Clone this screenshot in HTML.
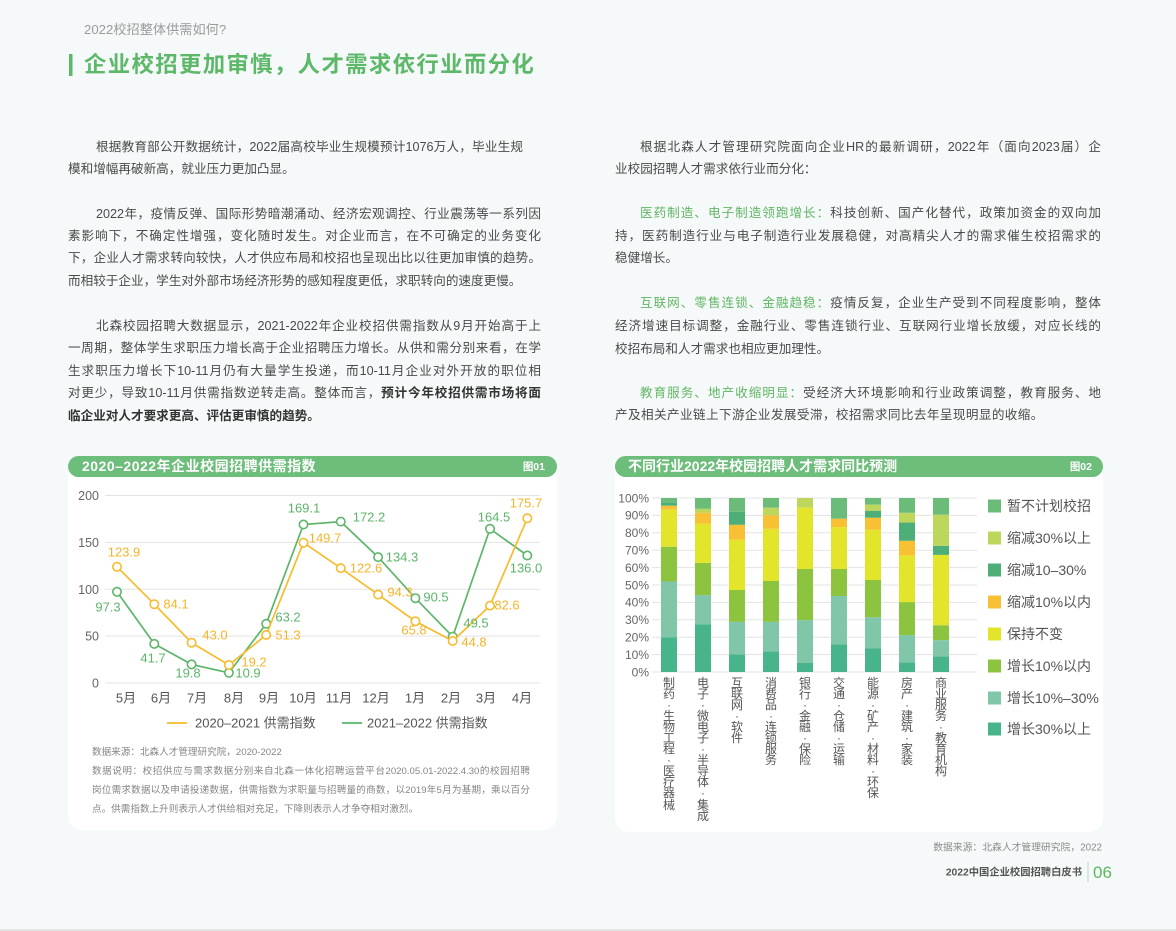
<!DOCTYPE html>
<html><head><meta charset="utf-8">
<style>
*{margin:0;padding:0;box-sizing:border-box}
html,body{width:1176px;height:931px;overflow:hidden;background:#f6f9f9}
body{position:relative;font-family:"Liberation Sans","Noto Sans CJK SC",sans-serif;color:#555}
.ln{position:absolute;height:18px;line-height:18px;font-size:12.6px;text-align:justify;text-align-last:justify;color:#4a4a4a}
.nl{text-align-last:left;text-align:left}
.g{color:#62b665}
.b{font-weight:bold;color:#333}
.fn{position:absolute;height:14px;line-height:14px;font-size:9.6px;color:#858585;text-align:justify;text-align-last:justify}
.vc{position:absolute;width:16px;text-align:center;font-size:12px;line-height:11.1px;color:#555;top:677.5px}
svg{position:absolute;left:0;top:0}
</style></head><body>

<svg width="1176" height="931" font-family="Liberation Sans, Noto Sans CJK SC, sans-serif">
<rect x="68" y="460" width="489" height="370" rx="14" fill="#fff"/>
<rect x="615" y="460" width="488" height="372" rx="14" fill="#fff"/>
<rect x="68" y="456" width="489" height="21" rx="10.5" fill="#6dbd7b"/>
<text x="82" y="471" fill="#fff" font-size="14" font-weight="bold" letter-spacing="0.5">2020–2022年企业校园招聘供需指数</text>
<text x="545" y="470" fill="#fff" font-size="10.5" font-weight="bold" text-anchor="end">图01</text>
<rect x="615" y="456" width="488" height="21" rx="10.5" fill="#6dbd7b"/>
<text x="628" y="471" fill="#fff" font-size="14" font-weight="bold">不同行业2022年校园招聘人才需求同比预测</text>
<text x="1092" y="470" fill="#fff" font-size="10.5" font-weight="bold" text-anchor="end">图02</text>

<rect x="69" y="54" width="3.5" height="22" fill="#5db86a"/>

<g stroke="#e3e3e3" stroke-width="1">
<line x1="105" y1="495.5" x2="540" y2="495.5"/>
<line x1="105" y1="542.4" x2="540" y2="542.4"/>
<line x1="105" y1="589.3" x2="540" y2="589.3"/>
<line x1="105" y1="636.1" x2="540" y2="636.1"/>
<line x1="105" y1="683" x2="540" y2="683"/>
</g>
<g font-size="12.5" fill="#666" text-anchor="end">
<text x="99" y="500">200</text>
<text x="99" y="546.9">150</text>
<text x="99" y="593.8">100</text>
<text x="99" y="640.6">50</text>
<text x="99" y="687.5">0</text>
</g>
<g font-size="13" fill="#555" text-anchor="middle">
<text x="126" y="702.5">5月</text>
<text x="161" y="702.5">6月</text>
<text x="197" y="702.5">7月</text>
<text x="234" y="702.5">8月</text>
<text x="269" y="702.5">9月</text>
<text x="303" y="702.5">10月</text>
<text x="339" y="702.5">11月</text>
<text x="376" y="702.5">12月</text>
<text x="415" y="702.5">1月</text>
<text x="451" y="702.5">2月</text>
<text x="486" y="702.5">3月</text>
<text x="522" y="702.5">4月</text>
</g>

<polyline fill="none" stroke="#5db56a" stroke-width="1.7" points="117,591.8 154.3,643.9 191.6,664.4 228.9,672.8 266.2,623.8 303.5,524.5 340.8,521.6 378.1,557.1 415.4,598.2 452.7,636.6 490,528.8 527.3,555.5"/>
<g fill="#fff" stroke="#5db56a" stroke-width="1.6">
<circle cx="117" cy="591.8" r="4.2"/><circle cx="154.3" cy="643.9" r="4.2"/><circle cx="191.6" cy="664.4" r="4.2"/><circle cx="228.9" cy="672.8" r="4.2"/><circle cx="266.2" cy="623.8" r="4.2"/><circle cx="303.5" cy="524.5" r="4.2"/><circle cx="340.8" cy="521.6" r="4.2"/><circle cx="378.1" cy="557.1" r="4.2"/><circle cx="415.4" cy="598.2" r="4.2"/><circle cx="452.7" cy="636.6" r="4.2"/><circle cx="490" cy="528.8" r="4.2"/><circle cx="527.3" cy="555.5" r="4.2"/>
</g>
<polyline fill="none" stroke="#f7bb2c" stroke-width="1.7" points="117,566.8 154.3,604.2 191.6,642.7 228.9,665 266.2,634.9 303.5,542.7 340.8,568.1 378.1,594.6 415.4,621.3 452.7,641 490,605.6 527.3,518.3"/>
<g fill="#fff" stroke="#f7bb2c" stroke-width="1.6">
<circle cx="117" cy="566.8" r="4.2"/><circle cx="154.3" cy="604.2" r="4.2"/><circle cx="191.6" cy="642.7" r="4.2"/><circle cx="228.9" cy="665" r="4.2"/><circle cx="266.2" cy="634.9" r="4.2"/><circle cx="303.5" cy="542.7" r="4.2"/><circle cx="340.8" cy="568.1" r="4.2"/><circle cx="378.1" cy="594.6" r="4.2"/><circle cx="415.4" cy="621.3" r="4.2"/><circle cx="452.7" cy="641" r="4.2"/><circle cx="490" cy="605.6" r="4.2"/><circle cx="527.3" cy="518.3" r="4.2"/>
</g>
<g font-size="13" fill="#f5b52a" text-anchor="middle">
<text x="124" y="556.7">123.9</text>
<text x="176" y="608.7">84.1</text>
<text x="215" y="639.7">43.0</text>
<text x="254" y="666.7">19.2</text>
<text x="288" y="639.7">51.3</text>
<text x="325" y="542.7">149.7</text>
<text x="366" y="572.7">122.6</text>
<text x="400" y="596.7">94.3</text>
<text x="414" y="634.7">65.8</text>
<text x="474" y="646.7">44.8</text>
<text x="507" y="609.7">82.6</text>
<text x="526" y="507.7">175.7</text>
</g>
<g font-size="13" fill="#5db56a" text-anchor="middle">
<text x="108" y="611.7">97.3</text>
<text x="153" y="662.7">41.7</text>
<text x="188" y="677.7">19.8</text>
<text x="248" y="677.7">10.9</text>
<text x="288" y="621.7">63.2</text>
<text x="304" y="512.7">169.1</text>
<text x="369" y="521.7">172.2</text>
<text x="402" y="561.7">134.3</text>
<text x="436" y="601.7">90.5</text>
<text x="476" y="627.7">49.5</text>
<text x="494" y="521.7">164.5</text>
<text x="526" y="572.7">136.0</text>
</g>
<line x1="167" y1="723" x2="187" y2="723" stroke="#f7c343" stroke-width="2"/>
<text x="195" y="727.5" font-size="13" fill="#555">2020–2021 供需指数</text>
<line x1="342" y1="723" x2="362" y2="723" stroke="#6cbd78" stroke-width="2"/>
<text x="367" y="727.5" font-size="13" fill="#555">2021–2022 供需指数</text>

<g stroke="#e3e3e3" stroke-width="1">
<line x1="652" y1="498" x2="977" y2="498"/>
<line x1="652" y1="515.4" x2="977" y2="515.4"/>
<line x1="652" y1="532.8" x2="977" y2="532.8"/>
<line x1="652" y1="550.2" x2="977" y2="550.2"/>
<line x1="652" y1="567.6" x2="977" y2="567.6"/>
<line x1="652" y1="585" x2="977" y2="585"/>
<line x1="652" y1="602.4" x2="977" y2="602.4"/>
<line x1="652" y1="619.8" x2="977" y2="619.8"/>
<line x1="652" y1="637.2" x2="977" y2="637.2"/>
<line x1="652" y1="654.6" x2="977" y2="654.6"/>
<line x1="652" y1="672" x2="977" y2="672"/>
</g>
<g font-size="12" fill="#666" text-anchor="end">
<text x="649" y="502.3">100%</text>
<text x="649" y="519.7">90%</text>
<text x="649" y="537.1">80%</text>
<text x="649" y="554.5">70%</text>
<text x="649" y="571.9">60%</text>
<text x="649" y="589.3">50%</text>
<text x="649" y="606.7">40%</text>
<text x="649" y="624.1">30%</text>
<text x="649" y="641.5">20%</text>
<text x="649" y="658.9">10%</text>
<text x="649" y="676.3">0%</text>
</g>
<g>
<rect x="661" y="637.2" width="16" height="34.8" fill="#48b48c"/>
<rect x="661" y="581.5" width="16" height="55.7" fill="#80c7a9"/>
<rect x="661" y="546.7" width="16" height="34.8" fill="#8cc43f"/>
<rect x="661" y="509.7" width="16" height="37" fill="#e3e52b"/>
<rect x="661" y="505.7" width="16" height="4" fill="#f8c133"/>
<rect x="661" y="502.3" width="16" height="3.4" fill="#4dae78"/>
<rect x="661" y="498" width="16" height="4.3" fill="#6cbc79"/>

<rect x="695" y="624.2" width="16" height="47.8" fill="#48b48c"/>
<rect x="695" y="595.1" width="16" height="29.1" fill="#80c7a9"/>
<rect x="695" y="562.9" width="16" height="32.2" fill="#8cc43f"/>
<rect x="695" y="523.8" width="16" height="39.1" fill="#e3e52b"/>
<rect x="695" y="512.8" width="16" height="11" fill="#f8c133"/>
<rect x="695" y="508.8" width="16" height="4" fill="#bcd75c"/>
<rect x="695" y="498" width="16" height="10.8" fill="#6cbc79"/>

<rect x="729" y="654.3" width="16" height="17.7" fill="#48b48c"/>
<rect x="729" y="621.9" width="16" height="32.4" fill="#80c7a9"/>
<rect x="729" y="590" width="16" height="31.9" fill="#8cc43f"/>
<rect x="729" y="539.8" width="16" height="50.2" fill="#e3e52b"/>
<rect x="729" y="524.8" width="16" height="15" fill="#f8c133"/>
<rect x="729" y="511.7" width="16" height="13.1" fill="#4dae78"/>
<rect x="729" y="498" width="16" height="13.7" fill="#6cbc79"/>

<rect x="763" y="651.3" width="16" height="20.7" fill="#48b48c"/>
<rect x="763" y="621.9" width="16" height="29.4" fill="#80c7a9"/>
<rect x="763" y="581" width="16" height="40.9" fill="#8cc43f"/>
<rect x="763" y="528.8" width="16" height="52.2" fill="#e3e52b"/>
<rect x="763" y="515.4" width="16" height="13.4" fill="#f8c133"/>
<rect x="763" y="507.7" width="16" height="7.7" fill="#bcd75c"/>
<rect x="763" y="498" width="16" height="9.7" fill="#6cbc79"/>

<rect x="797" y="663" width="16" height="9" fill="#48b48c"/>
<rect x="797" y="620.1" width="16" height="42.9" fill="#80c7a9"/>
<rect x="797" y="569" width="16" height="51.1" fill="#8cc43f"/>
<rect x="797" y="507.7" width="16" height="61.3" fill="#e3e52b"/>
<rect x="797" y="498" width="16" height="9.7" fill="#bcd75c"/>

<rect x="831" y="644.2" width="16" height="27.8" fill="#48b48c"/>
<rect x="831" y="596" width="16" height="48.2" fill="#80c7a9"/>
<rect x="831" y="569" width="16" height="27" fill="#8cc43f"/>
<rect x="831" y="527.1" width="16" height="41.9" fill="#e3e52b"/>
<rect x="831" y="518.7" width="16" height="8.4" fill="#f8c133"/>
<rect x="831" y="498" width="16" height="20.7" fill="#6cbc79"/>

<rect x="865" y="648.5" width="16" height="23.5" fill="#48b48c"/>
<rect x="865" y="617.2" width="16" height="31.3" fill="#80c7a9"/>
<rect x="865" y="580" width="16" height="37.2" fill="#8cc43f"/>
<rect x="865" y="529.8" width="16" height="50.2" fill="#e3e52b"/>
<rect x="865" y="517.7" width="16" height="12.1" fill="#f8c133"/>
<rect x="865" y="510.7" width="16" height="7" fill="#4dae78"/>
<rect x="865" y="504.6" width="16" height="6.1" fill="#bcd75c"/>
<rect x="865" y="498" width="16" height="6.6" fill="#6cbc79"/>

<rect x="899" y="662.3" width="16" height="9.7" fill="#48b48c"/>
<rect x="899" y="635.1" width="16" height="27.2" fill="#80c7a9"/>
<rect x="899" y="602.1" width="16" height="33" fill="#8cc43f"/>
<rect x="899" y="555.6" width="16" height="46.5" fill="#e3e52b"/>
<rect x="899" y="540.8" width="16" height="14.8" fill="#f8c133"/>
<rect x="899" y="522.4" width="16" height="18.4" fill="#4dae78"/>
<rect x="899" y="512.8" width="16" height="9.6" fill="#bcd75c"/>
<rect x="899" y="498" width="16" height="14.8" fill="#6cbc79"/>

<rect x="933" y="656.3" width="16" height="15.7" fill="#48b48c"/>
<rect x="933" y="640.2" width="16" height="16.1" fill="#80c7a9"/>
<rect x="933" y="625.2" width="16" height="15" fill="#8cc43f"/>
<rect x="933" y="554.9" width="16" height="70.3" fill="#e3e52b"/>
<rect x="933" y="545.8" width="16" height="9.1" fill="#4dae78"/>
<rect x="933" y="514.7" width="16" height="31.1" fill="#bcd75c"/>
<rect x="933" y="498" width="16" height="16.7" fill="#6cbc79"/>
</g>
<g>
<rect x="988" y="499.5" width="13" height="13" fill="#6cbc79"/>
<rect x="988" y="531.5" width="13" height="13" fill="#bcd75c"/>
<rect x="988" y="563.5" width="13" height="13" fill="#4dae78"/>
<rect x="988" y="595.5" width="13" height="13" fill="#f8c133"/>
<rect x="988" y="627.5" width="13" height="13" fill="#e3e52b"/>
<rect x="988" y="659.5" width="13" height="13" fill="#8cc43f"/>
<rect x="988" y="691.5" width="13" height="13" fill="#80c7a9"/>
<rect x="988" y="722.5" width="13" height="13" fill="#48b48c"/>
</g>
<g font-size="14" fill="#555">
<text x="1007" y="511">暂不计划校招</text>
<text x="1007" y="543">缩减30%以上</text>
<text x="1007" y="575">缩减10–30%</text>
<text x="1007" y="607">缩减10%以内</text>
<text x="1007" y="639">保持不变</text>
<text x="1007" y="671">增长10%以内</text>
<text x="1007" y="703">增长10%–30%</text>
<text x="1007" y="734">增长30%以上</text>
</g>

<text x="1102" y="850.5" font-size="9.8" fill="#8a8a8a" text-anchor="end">数据来源：北森人才管理研究院，2022</text>
<text x="1082" y="875.5" font-size="10.3" font-weight="bold" fill="#555" text-anchor="end">2022中国企业校园招聘白皮书</text>
<line x1="1088" y1="862" x2="1088" y2="882" stroke="#b5dcb5" stroke-width="1"/>
<text x="1093" y="878" font-size="17" fill="#5cb85c">06</text>
<rect x="0" y="929" width="1176" height="2" fill="#e2e4e4"/>
</svg>

<div style="position:absolute;left:84px;top:21px;height:18px;line-height:18px;font-size:13.2px;color:#9b9b9b">2022校招整体供需如何?</div>
<div style="position:absolute;left:84px;top:50px;height:30px;line-height:30px;font-size:22.4px;font-weight:bold;color:#5db86a;white-space:nowrap;letter-spacing:1.35px">企业校招更加审慎，人才需求依行业而分化</div>

<div class="ln" style="left:96px;top:138px;width:427px">根据教育部公开数据统计，2022届高校毕业生规模预计1076万人，毕业生规</div>
<div class="ln nl" style="left:68px;top:160px;width:473px">模和增幅再破新高，就业压力更加凸显。</div>

<div class="ln" style="left:96px;top:205px;width:445px">2022年，疫情反弹、国际形势暗潮涌动、经济宏观调控、行业震荡等一系列因</div>
<div class="ln" style="left:68px;top:227px;width:473px">素影响下，不确定性增强，变化随时发生。对企业而言，在不可确定的业务变化</div>
<div class="ln" style="left:68px;top:249px;width:473px">下，企业人才需求转向较快，人才供应布局和校招也呈现出比以往更加审慎的趋势。</div>
<div class="ln nl" style="left:68px;top:272px;width:473px">而相较于企业，学生对外部市场经济形势的感知程度更低，求职转向的速度更慢。</div>

<div class="ln" style="left:96px;top:317px;width:445px">北森校园招聘大数据显示，2021-2022年企业校招供需指数从9月开始高于上</div>
<div class="ln" style="left:68px;top:339px;width:473px">一周期，整体学生求职压力增长高于企业招聘压力增长。从供和需分别来看，在学</div>
<div class="ln" style="left:68px;top:362px;width:473px">生求职压力增长下10-11月仍有大量学生投递，而10-11月企业对外开放的职位相</div>
<div class="ln" style="left:68px;top:384px;width:473px">对更少，导致10-11月供需指数逆转走高。整体而言，<span class="b">预计今年校招供需市场将面</span></div>
<div class="ln nl b" style="left:68px;top:407px;width:473px">临企业对人才要求更高、评估更审慎的趋势。</div>

<div class="ln" style="left:640px;top:138px;width:461px">根据北森人才管理研究院面向企业HR的最新调研，2022年（面向2023届）企</div>
<div class="ln nl" style="left:615px;top:160px;width:486px">业校园招聘人才需求依行业而分化：</div>

<div class="ln" style="left:640px;top:204px;width:461px"><span class="g">医药制造、电子制造领跑增长：</span>科技创新、国产化替代，政策加资金的双向加</div>
<div class="ln" style="left:615px;top:227px;width:486px">持，医药制造行业与电子制造行业发展稳健，对高精尖人才的需求催生校招需求的</div>
<div class="ln nl" style="left:615px;top:249px;width:486px">稳健增长。</div>

<div class="ln" style="left:640px;top:294px;width:461px"><span class="g">互联网、零售连锁、金融趋稳：</span>疫情反复，企业生产受到不同程度影响，整体</div>
<div class="ln" style="left:615px;top:317px;width:486px">经济增速目标调整，金融行业、零售连锁行业、互联网行业增长放缓，对应长线的</div>
<div class="ln nl" style="left:615px;top:340px;width:486px">校招布局和人才需求也相应更加理性。</div>

<div class="ln" style="left:640px;top:384px;width:461px"><span class="g">教育服务、地产收缩明显：</span>受经济大环境影响和行业政策调整，教育服务、地</div>
<div class="ln nl" style="left:615px;top:406px;width:486px;letter-spacing:0.4px">产及相关产业链上下游企业发展受滞，校招需求同比去年呈现明显的收缩。</div>

<div class="fn" style="left:92px;top:746px;width:438px;text-align-last:left">数据来源：北森人才管理研究院，2020-2022</div>
<div class="fn" style="left:92px;top:765px;width:438px">数据说明：校招供应与需求数据分别来自北森一体化招聘运营平台2020.05.01-2022.4.30的校园招聘</div>
<div class="fn" style="left:92px;top:784px;width:438px">岗位需求数据以及申请投递数据，供需指数为求职量与招聘量的商数，以2019年5月为基期，乘以百分</div>
<div class="fn" style="left:92px;top:803px;width:438px;text-align-last:left">点。供需指数上升则表示人才供给相对充足，下降则表示人才争夺相对激烈。</div>

<div class="vc" style="left:661px">制<br>药<br>·<br>生<br>物<br>工<br>程<br>·<br>医<br>疗<br>器<br>械</div>
<div class="vc" style="left:695px">电<br>子<br>·<br>微<br>电<br>子<br>·<br>半<br>导<br>体<br>·<br>集<br>成</div>
<div class="vc" style="left:729px">互<br>联<br>网<br>·<br>软<br>件</div>
<div class="vc" style="left:763px">消<br>费<br>品<br>·<br>连<br>锁<br>服<br>务</div>
<div class="vc" style="left:797px">银<br>行<br>·<br>金<br>融<br>·<br>保<br>险</div>
<div class="vc" style="left:831px">交<br>通<br>·<br>仓<br>储<br>·<br>运<br>输</div>
<div class="vc" style="left:865px">能<br>源<br>·<br>矿<br>产<br>·<br>材<br>料<br>·<br>环<br>保</div>
<div class="vc" style="left:899px">房<br>产<br>·<br>建<br>筑<br>·<br>家<br>装</div>
<div class="vc" style="left:933px">商<br>业<br>服<br>务<br>·<br>教<br>育<br>机<br>构</div>

</body></html>
